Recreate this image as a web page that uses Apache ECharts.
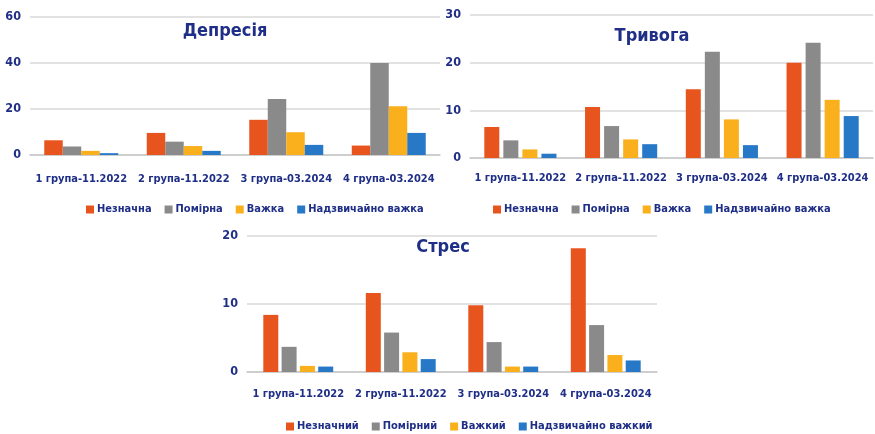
<!DOCTYPE html>
<html>
<head>
<meta charset="utf-8">
<script src="https://cdn.jsdelivr.net/npm/echarts@6/dist/echarts.min.js"></script>
<style>
  html, body { margin: 0; padding: 0; background: #fff; }
  #chart { width: 875px; height: 434px; }
</style>
</head>
<body>
<div id="chart"></div>
<script>
// Categories shared by all three panels
const groups = ['1 група-11.2022', '2 група-11.2022', '3 група-03.2024', '4 група-03.2024'];

// Депресія
const depNames = ['Незначна', 'Помірна', 'Важка', 'Надзвичайно важка'];
const depMild = [6.4, 9.6, 15.3, 4.1];
const depModerate = [3.7, 5.8, 24.4, 40];
const depSevere = [1.8, 3.9, 9.9, 21.2];
const depExtreme = [0.8, 1.8, 4.4, 9.6];

// Тривога
const anxNames = ['Незначна', 'Помірна', 'Важка', 'Надзвичайно важка'];
const anxMild = [6.5, 10.7, 14.4, 20];
const anxModerate = [3.7, 6.7, 22.3, 24.2];
const anxSevere = [1.8, 3.9, 8.1, 12.2];
const anxExtreme = [0.9, 2.9, 2.7, 8.8];

// Стрес
const strNames = ['Незначний', 'Помірний', 'Важкий', 'Надзвичайно важкий'];
const strMild = [8.4, 11.6, 9.8, 18.2];
const strModerate = [3.7, 5.8, 4.4, 6.9];
const strSevere = [0.9, 2.9, 0.8, 2.5];
const strExtreme = [0.8, 1.9, 0.8, 1.7];

const palette = ['#E8541E', '#8A8A8A', '#F9B01C', '#2878C8'];
const ink = '#1F2E86';
const font = '"DejaVu Sans Condensed", "DejaVu Sans", sans-serif';

const chart = echarts.init(document.getElementById('chart'), null, { renderer: 'canvas' });

const grids = [
  { left: 30, top: 17, width: 410, height: 138 },
  { left: 470, top: 15, width: 403, height: 143 },
  { left: 247, top: 236, width: 410, height: 136 }
];
const yMax = [60, 30, 20];
const yStep = [20, 10, 10];
const labelMargin = [19, 15, 17];

function xAxis(i) {
  return {
    type: 'category', gridIndex: i, data: groups,
    axisTick: { show: false },
    axisLine: { lineStyle: { color: '#c8c8c8', width: 1.5 } },
    axisLabel: { interval: 0, color: ink, fontFamily: font, fontWeight: 'bold', fontSize: 11, margin: labelMargin[i] }
  };
}
function yAxis(i) {
  return {
    type: 'value', gridIndex: i, min: 0, max: yMax[i], interval: yStep[i],
    axisLine: { show: false }, axisTick: { show: false },
    splitLine: { lineStyle: { color: '#d9d9d9', width: 1.5 } },
    axisLabel: { color: ink, fontFamily: font, fontWeight: 'bold', fontSize: 12.5, margin: 9 }
  };
}
function bars(i, names, sets, width, gap) {
  return sets.map((d, k) => ({
    type: 'bar', name: names[k], xAxisIndex: i, yAxisIndex: i, data: d,
    barWidth: width, barGap: gap,
    itemStyle: { color: palette[k] }
  }));
}
function legend(names, left, top) {
  return {
    data: names, left: left, top: top, width: 400, itemWidth: 8, itemHeight: 8, itemGap: 13,
    icon: 'rect', selectedMode: false, padding: 0,
    textStyle: { color: ink, fontFamily: font, fontWeight: 'bold', fontSize: 11, padding: [0, 0, 0, -2] }
  };
}
function title(text, cx, top) {
  return {
    text: text, left: cx, top: top, textAlign: 'center', padding: 0,
    textStyle: { color: ink, fontFamily: font, fontWeight: 'bold', fontSize: 18 }
  };
}

// Тривога series carry a trailing space so that its legend stays separate
const anxKeys = anxNames.map(n => n + ' ');

chart.setOption({
  animation: false,
  color: palette,
  title: [
    title('Депресія', 225, 22),
    title('Тривога', 652, 27),
    title('Стрес', 443, 238)
  ],
  legend: [
    legend(depNames, 86, 204),
    Object.assign(legend(anxKeys, 493, 204), { formatter: n => n.trim() }),
    legend(strNames, 286, 421)
  ],
  grid: grids,
  xAxis: [xAxis(0), xAxis(1), xAxis(2)],
  yAxis: [yAxis(0), yAxis(1), yAxis(2)],
  series: [
    ...bars(0, depNames, [depMild, depModerate, depSevere, depExtreme], 18.5, '0%'),
    ...bars(1, anxKeys, [anxMild, anxModerate, anxSevere, anxExtreme], 15, '27%'),
    ...bars(2, strNames, [strMild, strModerate, strSevere, strExtreme], 15, '22%')
  ]
});
</script>
</body>
</html>
